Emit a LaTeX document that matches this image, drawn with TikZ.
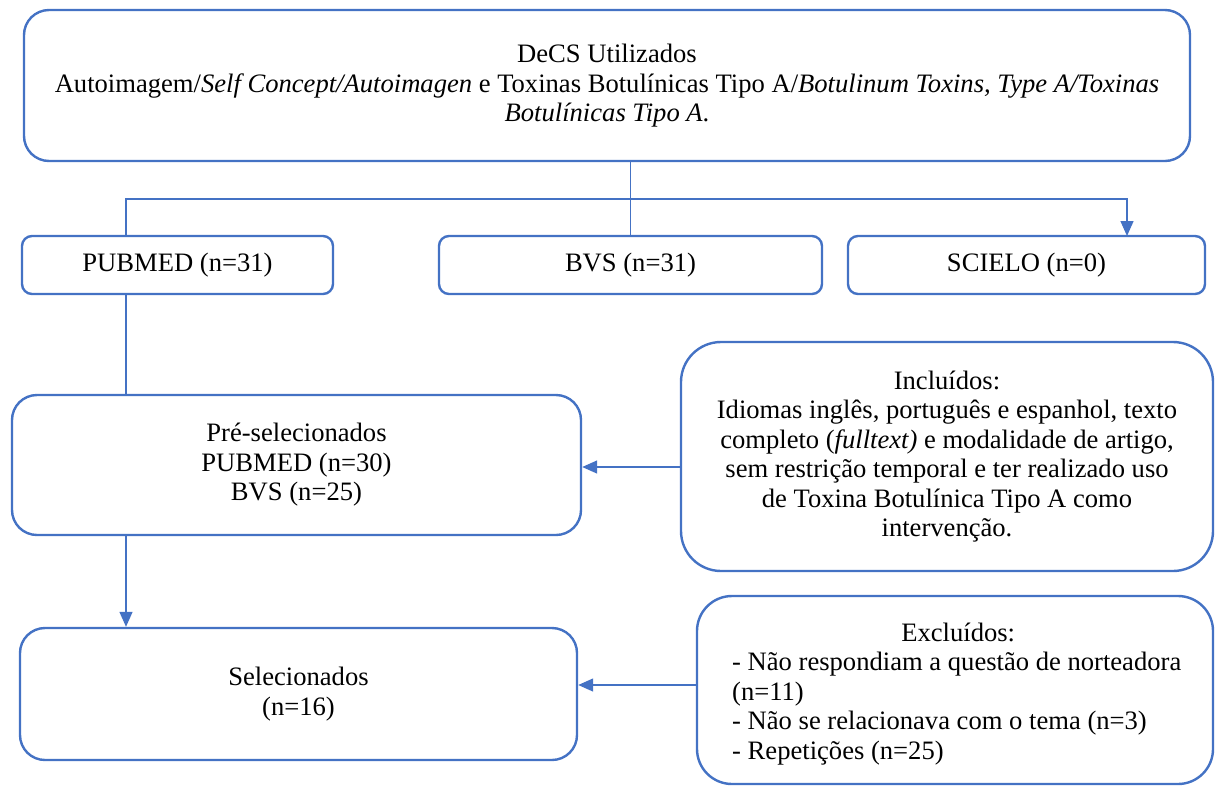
\documentclass[tikz,border=0pt]{standalone}
\usepackage{fontspec}
\setmainfont{Liberation Serif}
\usetikzlibrary{arrows.meta}
\definecolor{wblue}{HTML}{4472C4}
\tikzset{
  box/.style={draw=wblue, line width=2.4pt, fill=white, align=center, inner sep=0pt,
    font=\fontsize{26.6}{29.5}\selectfont},
  conn/.style={draw=wblue, line width=1.4pt},
  arr/.style={conn, -{Triangle[width=13pt,length=15pt]}}
}
\begin{document}
\begin{tikzpicture}[x=1pt,y=-1pt]
\useasboundingbox (0,0) rectangle (1215,785);
% boxes
\node[box, rounded corners=25pt, minimum width=1166pt, minimum height=151pt] (top) at (607,85.5) {};
\node[align=center, inner sep=0pt, font=\fontsize{26.6}{29.5}\selectfont] (topt) at (607,86)
  {DeCS Utilizados\\ Autoimagem/\textit{Self Concept/Autoimagen} e Toxinas Botulínicas Tipo A/\textit{Botulinum Toxins, Type A/Toxinas}\\ \textit{Botulínicas Tipo A}.};
\node[box, rounded corners=10pt, minimum width=311pt, minimum height=58pt] (pubmed) at (177.5,265) {PUBMED (n=31)};
\node[box, rounded corners=10pt, minimum width=383pt, minimum height=58pt] (bvs) at (630.5,265) {BVS (n=31)};
\node[box, rounded corners=10pt, minimum width=357pt, minimum height=58pt] (scielo) at (1026.5,265) {SCIELO (n=0)};
\node[box, rounded corners=25pt, minimum width=569pt, minimum height=140pt] (pre) at (296.5,465)
  {Pré-selecionados\\ PUBMED (n=30)\\ BVS (n=25)};
\node[box, rounded corners=25pt, minimum width=557pt, minimum height=132pt] (sel) at (298.5,694)
  {Selecionados\\ (n=16)};
\node[box, rounded corners=40pt, minimum width=532pt, minimum height=229pt] (inc) at (947,456.5)
  {Incluídos:\\ Idiomas inglês, português e espanhol, texto\\ completo (\textit{fulltext)} e modalidade de artigo,\\ sem restrição temporal e ter realizado uso\\ de Toxina Botulínica Tipo A como\\ intervenção.};
\node[box, rounded corners=35pt, minimum width=516pt, minimum height=188pt] (exc) at (955,690) {};
\node[align=left, inner sep=0pt, anchor=west, font=\fontsize{26.6}{29.5}\selectfont] (exct) at (732,694)
  {\makebox[452pt][c]{Excluídos:}\\ - Não respondiam a questão de norteadora\\ (n=11)\\ - Não se relacionava com o tema (n=3)\\ - Repetições (n=25)};
% connectors
\coordinate (j) at (630.5,199);
\coordinate (pl) at (126,236);
\coordinate (sr) at (1127,236);
\draw[conn] (top.south -| bvs.north) -- (bvs.north);
\draw[conn] (j) -| (pl);
\draw[arr] (j) -| (sr);
\draw[conn] (pubmed.south -| pl) -- (pre.north -| pl);
\draw[arr] (pre.south -| pl) -- (sel.north -| pl);
\draw[arr] (inc.west |- 0,467) -- (pre.east |- 0,467);
\draw[arr] (exc.west |- 0,685) -- (sel.east |- 0,685);
\end{tikzpicture}
\end{document}
